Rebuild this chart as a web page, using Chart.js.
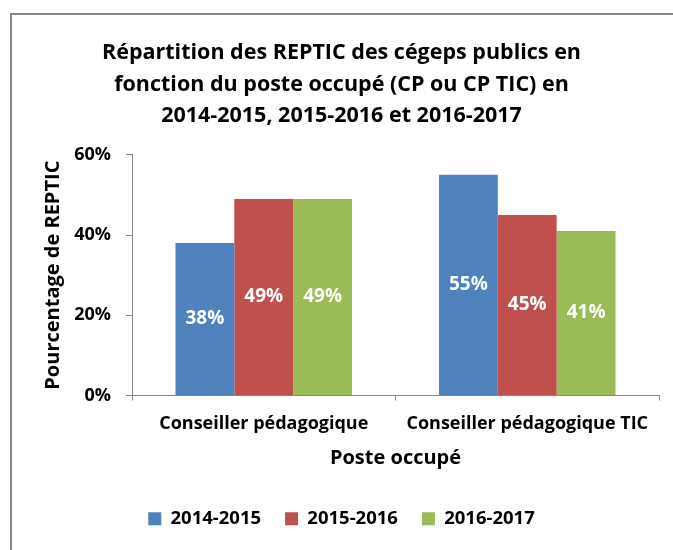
<!DOCTYPE html>
<html>
<head>
<meta charset="utf-8">
<script src="https://cdn.jsdelivr.net/npm/chart.js@4"></script>
<style>
  html, body { margin: 0; padding: 0; background: #fff; overflow: hidden; }
  #wrap { position: relative; width: 673px; height: 550px; }
  #frame {
    position: absolute; left: 10px; top: 13px; width: 700px; height: 600px;
    border-left: 2px solid #888; border-top: 2px solid #888; pointer-events: none;
  }
  canvas { position: absolute; left: 0; top: 0; }
</style>
</head>
<body>
<div id="wrap">
  <canvas id="chart" width="673" height="550"></canvas>
  <div id="frame"></div>
</div>
<script>
// chart data
const categories = ['Conseiller pédagogique', 'Conseiller pédagogique TIC'];
const seriesNames = ['2014-2015', '2015-2016', '2016-2017'];
const values2014 = [38, 55];
const values2015 = [49, 45];
const values2016 = [49, 41];
const yTicks = [0, 20, 40, 60];

const colors = ['#4F81BD', '#C0504D', '#9BBB59'];
const fontFamily = '"Open Sans", "Noto Sans", sans-serif';
const axisColor = '#868686';

// white value labels in the middle of each bar
const barLabels = {
    id: 'barLabels',
    afterDatasetsDraw(chart) {
        const ctx = chart.ctx;
        ctx.save();
        ctx.fillStyle = '#fff';
        ctx.font = 'bold 19px ' + fontFamily;
        ctx.textAlign = 'center';
        ctx.textBaseline = 'middle';
        chart.data.datasets.forEach((ds, i) => {
            chart.getDatasetMeta(i).data.forEach((bar, j) => {
                const mid = (bar.y + bar.base) / 2;
                ctx.fillText(ds.data[j] + '%', bar.x, mid);
            });
        });
        ctx.restore();
    }
};

new Chart(document.getElementById('chart'), {
    type: 'bar',
    data: {
        labels: categories,
        datasets: [values2014, values2015, values2016].map((vals, i) => ({
            label: seriesNames[i],
            data: vals,
            backgroundColor: colors[i],
            borderWidth: 0,
            categoryPercentage: 0.67,
            barPercentage: 1.0
        }))
    },
    options: {
        responsive: false,
        animation: false,
        layout: { padding: { left: 24, right: 14, top: 0, bottom: 12 } },
        plugins: {
            title: {
                display: true,
                text: [
                    'Répartition des REPTIC des cégeps publics en',
                    'fonction du poste occupé (CP ou CP TIC) en',
                    '2014-2015, 2015-2016 et 2016-2017'
                ],
                color: '#000',
                font: { family: fontFamily, size: 21.5, weight: 'bold', lineHeight: 1.47 },
                padding: { top: 37, bottom: 23 }
            },
            legend: {
                position: 'bottom',
                labels: {
                    color: '#000',
                    font: { family: fontFamily, size: 18.5, weight: 'bold' },
                    boxWidth: 13,
                    boxHeight: 13,
                    padding: 24
                }
            },
            tooltip: { enabled: false }
        },
        scales: {
            x: {
                grid: { drawOnChartArea: false, tickLength: 5, color: axisColor },
                border: { color: axisColor },
                ticks: {
                    color: '#000',
                    padding: 13,
                    font: { family: fontFamily, size: 18, weight: 'bold' }
                },
                title: {
                    display: true,
                    text: 'Poste occupé',
                    color: '#000',
                    font: { family: fontFamily, size: 20, weight: 'bold' },
                    padding: { top: 4, bottom: 15 }
                },
                afterFit(scale) { scale.height = 90; }
            },
            y: {
                min: 0,
                max: 60,
                afterBuildTicks(scale) { scale.ticks = yTicks.map(v => ({ value: v })); },
                grid: { drawOnChartArea: false, tickLength: 6, color: axisColor },
                border: { color: axisColor },
                ticks: {
                    color: '#000',
                    padding: 15,
                    font: { family: fontFamily, size: 18, weight: 'bold' },
                    callback: v => v + '%'
                },
                title: {
                    display: true,
                    text: 'Pourcentage de REPTIC',
                    color: '#000',
                    font: { family: fontFamily, size: 20, weight: 'bold' },
                    padding: { top: 17, bottom: 0 }
                },
                afterFit(scale) { scale.width = 108; }
            }
        }
    },
    plugins: [barLabels]
});
</script>
</body>
</html>
